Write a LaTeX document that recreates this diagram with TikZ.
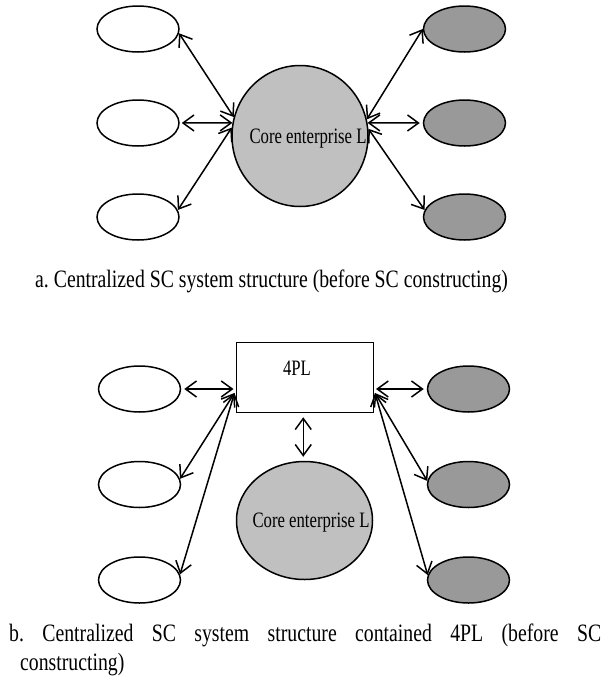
\documentclass[tikz,border=0pt]{standalone}
\usepackage{fontspec}
\setmainfont{Liberation Serif}[FakeStretch=0.79]
\newfontfamily\labelfont{Liberation Serif}[FakeStretch=0.76]
\usetikzlibrary{arrows.meta,shapes.geometric}

\definecolor{coregray}{RGB}{192,192,192}
\definecolor{custgray}{RGB}{153,153,153}

\tikzset{
  party/.style={ellipse, draw, line width=1.5pt, inner sep=0pt,
                minimum width=82pt, minimum height=46pt},
  supplier/.style={party, fill=white},
  customer/.style={party, fill=custgray},
  coreunit/.style={ellipse, draw, line width=1.5pt, fill=coregray, inner sep=0pt},
  plbox/.style={rectangle, draw, line width=1.5pt, fill=white, inner sep=0pt,
                minimum width=137pt, minimum height=70pt},
  tag/.style={inner sep=0pt, font=\labelfont\fontsize{22}{26}\selectfont},
  caption/.style={inner sep=0pt, anchor=base west,
                  font=\fontsize{25}{30}\selectfont\frenchspacing},
  link/.style={line width=1.5pt,
    {Straight Barb[length=11pt,width=16pt]}-{Straight Barb[length=11pt,width=16pt]}}
}

\begin{document}
\begin{tikzpicture}[x=1pt,y=-1pt]
\useasboundingbox[fill=white] (0,0) rectangle (605,683);

% ---------- a. centralized structure ----------
\node[coreunit, minimum width=136pt, minimum height=141pt] (coreA) at (300,136) {};
\node[tag] (coreAtxt) at (308,139) {Core enterprise L};

\node[supplier] (la1) at (138,29) {};
\node[supplier] (la2) at (138,123) {};
\node[supplier] (la3) at (138,217) {};
\node[customer] (ra1) at (464.5,29) {};
\node[customer] (ra2) at (464.5,123) {};
\node[customer] (ra3) at (464.5,217) {};

\draw[link] (la1.-6) -- (coreA.164);
\draw[link] ([xshift=2pt]la2.east) -- (coreA.169);
\draw[link] (coreA.173) -- (la3.10);
\draw[link] (coreA.14) -- (ra1.west);
\draw[link] (coreA.11) -- ([xshift=-3pt]ra2.west);
\draw[link] (coreA.6) -- (ra3.170);

\node[caption] (capA) at (35,287)
  {a. Centralized SC system structure (before SC constructing)};

% ---------- b. structure with 4PL ----------
\node[plbox] (fpl) at (304.75,377.5) {};
\node[tag] (fpltxt) at (297,368) {4PL};

\node[coreunit, minimum width=136pt, minimum height=118pt] (coreB) at (304.5,520.5) {};
\node[tag] (coreBtxt) at (311,523) {Core enterprise L};

\node[supplier] (lb1) at (139.5,389) {};
\node[supplier] (lb2) at (139.5,484.5) {};
\node[supplier] (lb3) at (139.5,580) {};
\node[customer] (rb1) at (468.5,389) {};
\node[customer] (rb2) at (468.5,484.5) {};
\node[customer] (rb3) at (468.5,580) {};

\coordinate (fplW) at ([yshift=-15.5pt]fpl.west);
\coordinate (fplE) at ([yshift=-15.5pt]fpl.east);

\draw[link] ([xshift=3pt]lb1.east) -- ([xshift=-2pt]lb1.east -| fpl.west);
\draw[link] ([xshift=2pt]fpl.east |- rb1.west) -- ([xshift=-3pt]rb1.west);
\draw[link, shorten <=4pt, shorten >=4pt] ([xshift=-1.5pt]fpl.south) -- ([xshift=-1.5pt]fpl.south |- coreB.north);
\draw[link] ([xshift=-1pt]fplW) -- (lb2.8);
\draw[link] ([xshift=-1pt]fplW) -- (lb3.8);
\draw[link] ([xshift=1pt]fplE) -- (rb2.175);
\draw[link] ([xshift=1pt]fplE) -- (rb3.173);

\node[caption] (capB1) at (9,641)
  {\makebox[592pt][s]{b.\ Centralized SC system structure contained 4PL (before SC}};
\node[caption] (capB2) at (20,670) {constructing)};
\end{tikzpicture}
\end{document}
